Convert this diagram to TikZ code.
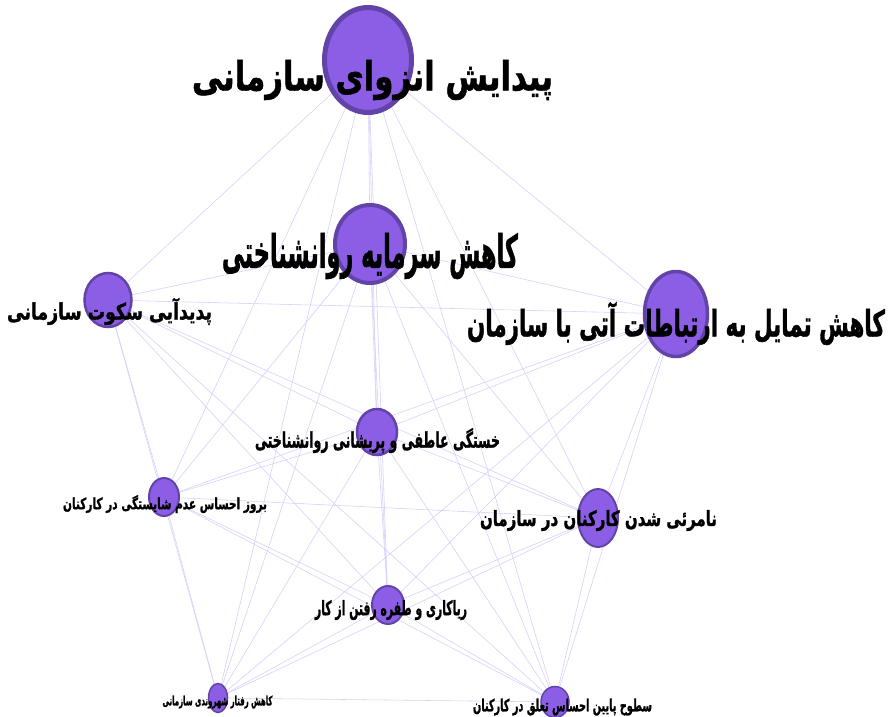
\documentclass[tikz,border=0pt]{standalone}
\usepackage{fontspec}
\usepackage{graphicx}
\usetikzlibrary{shapes.geometric,backgrounds}
\newfontfamily\fa[Script=Arabic,BoldFeatures={FakeBold=1.5}]{DejaVu Sans}
\TeXXeTstate=1
\definecolor{nfill}{RGB}{139,94,229}
\definecolor{nbord}{RGB}{98,68,168}
\definecolor{edgec}{RGB}{214,205,250}
\newcommand{\faLab}[3]{\resizebox*{#1pt}{#2pt}{\fa\bfseries #3}}
\begin{document}
\begin{tikzpicture}[x=1pt,y=-1pt,
  vnode/.style={ellipse,fill=nfill,draw=nbord,inner sep=0pt},
  lbl/.style={inner sep=0pt,text=black},
  edge/.style={draw=edgec,line width=0.55pt}]
\useasboundingbox (0,0) rectangle (895,716);
\node[vnode,line width=5pt,minimum width=87pt,minimum height=105pt] (n1) at (368,60) {};
\node[vnode,line width=4pt,minimum width=70pt,minimum height=78pt] (n2) at (370,244) {};
\node[vnode,line width=2.5pt,minimum width=47pt,minimum height=54pt] (n3) at (108,300) {};
\node[vnode,line width=3.5pt,minimum width=63pt,minimum height=85pt] (n4) at (676,314) {};
\node[vnode,line width=2.5pt,minimum width=40pt,minimum height=46pt] (n5) at (377,432) {};
\node[vnode,line width=2pt,minimum width=30pt,minimum height=38pt] (n6) at (164,497) {};
\node[vnode,line width=2pt,minimum width=40pt,minimum height=58pt] (n7) at (598,518) {};
\node[vnode,line width=2pt,minimum width=32pt,minimum height=38pt] (n8) at (388,605) {};
\node[vnode,line width=1.5pt,minimum width=19pt,minimum height=29pt] (n9) at (218,698) {};
\node[vnode,line width=1.5pt,minimum width=28pt,minimum height=31pt] (n10) at (555,702) {};
\begin{scope}[on background layer]
\fill[white] (0,0) rectangle (895,716);
\foreach \i in {1,...,9}{
  \pgfmathtruncatemacro\s{\i+1}
  \foreach \j in {\s,...,10}{\draw[edge] (n\i) -- (n\j);}
}
\end{scope}
\node[lbl] (t1) at (372.5,80) {\faLab{361}{40}{\beginR پیدایش انزوای سازمانی\endR}};
\node[lbl] (t2) at (370,256) {\faLab{296}{46}{\beginR کاهش سرمایه روانشناختی\endR}};
\node[lbl] (t3) at (109.5,311.5) {\faLab{205}{27}{\beginR پدیدآیی سکوت سازمانی\endR}};
\node[lbl] (t4) at (676,323.5) {\faLab{418}{43}{\beginR کاهش تمایل به ارتباطات آتی با سازمان\endR}};
\node[lbl] (t5) at (377.5,440.5) {\faLab{245}{25}{\beginR خستگی عاطفی و پریشانی روانشناختی\endR}};
\node[lbl] (t6) at (165,504) {\faLab{204}{18}{\beginR بروز احساس عدم شایستگی در کارکنان\endR}};
\node[lbl] (t7) at (598.5,520.5) {\faLab{237}{21}{\beginR نامرئی شدن کارکنان در سازمان\endR}};
\node[lbl] (t8) at (391,610) {\faLab{152}{20}{\beginR ریاکاری و طفره رفتن از کار\endR}};
\node[lbl] (t9) at (217.5,702) {\faLab{110}{13}{\beginR کاهش رفتار شهروندی سازمانی\endR}};
\node[lbl] (t10) at (562.5,707) {\faLab{179}{17}{\beginR سطوح پایین احساس تعلق در کارکنان\endR}};
\end{tikzpicture}
\end{document}
